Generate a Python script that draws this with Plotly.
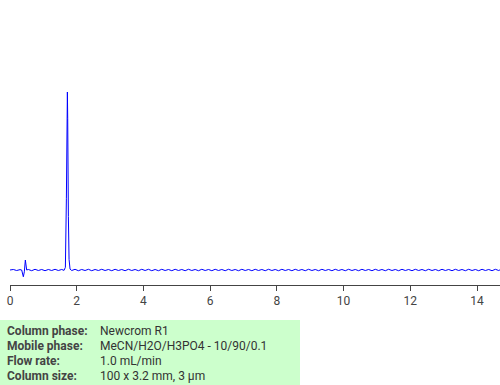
import plotly.graph_objects as go

# Chromatogram (time in min, signal in arbitrary units; baseline 0, main peak 100)
time_min = [0.0, 0.1, 0.2, 0.3, 0.35, 0.40, 0.43, 0.46, 0.50, 0.55,
            0.65, 0.75, 0.85, 0.95, 1.05, 1.15, 1.25, 1.35, 1.45, 1.55,
            1.62, 1.66, 1.69, 1.71, 1.72, 1.73, 1.75, 1.77, 1.80, 1.85,
            1.95, 2.05, 2.15, 2.25, 2.35, 2.45, 2.55, 2.65, 2.75, 2.85,
            2.95, 3.05, 3.15, 3.25, 3.35, 3.45, 3.55, 3.65, 3.75, 3.85,
            3.95, 4.05, 4.15, 4.25, 4.35, 4.45, 4.55, 4.65, 4.75, 4.85,
            4.95, 5.05, 5.15, 5.25, 5.35, 5.45, 5.55, 5.65, 5.75, 5.85,
            5.95, 6.05, 6.15, 6.25, 6.35, 6.45, 6.55, 6.65, 6.75, 6.85,
            6.95, 7.05, 7.15, 7.25, 7.35, 7.45, 7.55, 7.65, 7.75, 7.85,
            7.95, 8.05, 8.15, 8.25, 8.35, 8.45, 8.55, 8.65, 8.75, 8.85,
            8.95, 9.05, 9.15, 9.25, 9.35, 9.45, 9.55, 9.65, 9.75, 9.85,
            9.95, 10.05, 10.15, 10.25, 10.35, 10.45, 10.55, 10.65, 10.75, 10.85,
            10.95, 11.05, 11.15, 11.25, 11.35, 11.45, 11.55, 11.65, 11.75, 11.85,
            11.95, 12.05, 12.15, 12.25, 12.35, 12.45, 12.55, 12.65, 12.75, 12.85,
            12.95, 13.05, 13.15, 13.25, 13.35, 13.45, 13.55, 13.65, 13.75, 13.85,
            13.95, 14.05, 14.15, 14.25, 14.35, 14.45, 14.55, 14.65, 14.70]
signal = [0.0, 0.3, -0.3, 0.2, 0.0, -3.8, -1.0, 5.6, 0.0, 0.3,
          -0.4, 0.4, -0.3, 0.3, -0.4, 0.3, -0.3, 0.4, -0.3, 0.3,
          -0.2, 1.5, 40.0, 88.0, 100.0, 85.0, 30.0, 6.0, 0.5, -0.3,
          0.4, -0.4, 0.3, -0.3, 0.4, -0.4, 0.3, -0.3, 0.4, -0.3,
          0.3, -0.4, 0.4, -0.3, 0.3, -0.4, 0.4, -0.3, 0.3, -0.4,
          0.4, -0.3, 0.4, -0.4, 0.3, -0.4, 0.4, -0.3, 0.3, -0.4,
          0.4, -0.3, 0.3, -0.4, 0.4, -0.3, 0.3, -0.4, 0.4, -0.3,
          0.3, -0.4, 0.4, -0.3, 0.3, -0.4, 0.4, -0.3, 0.3, -0.4,
          0.4, -0.3, 0.3, -0.4, 0.4, -0.3, 0.3, -0.4, 0.4, -0.3,
          0.3, -0.4, 0.4, -0.3, 0.3, -0.4, 0.4, -0.3, 0.3, -0.4,
          0.4, -0.3, 0.3, -0.4, 0.4, -0.3, 0.3, -0.4, 0.4, -0.3,
          0.3, -0.4, 0.4, -0.3, 0.3, -0.4, 0.4, -0.3, 0.3, -0.4,
          0.4, -0.3, 0.3, -0.4, 0.4, -0.3, 0.3, -0.4, 0.4, -0.3,
          0.3, -0.4, 0.4, -0.3, 0.3, -0.4, 0.4, -0.3, 0.3, -0.4,
          0.4, -0.3, 0.3, -0.4, 0.4, -0.3, 0.3, -0.4, 0.4, -0.3,
          0.3, -0.4, 0.4, -0.3, 0.3, -0.4, 0.4, -0.3, 0.2]

tick_values = [0, 2, 4, 6, 8, 10, 12, 14]
tick_labels = ["0", "2", "4", "6", "8", "10", "12", "14"]

info_labels = ["Column phase:", "Mobile phase:", "Flow rate:", "Column size:"]
info_values = ["Newcrom R1", "MeCN/H2O/H3PO4 - 10/90/0.1", "1.0 mL/min", "100 x 3.2 mm, 3 µm"]

W, H = 500, 385
ML, MR, MT, MB = 10, 0, 10, 100
PW, PH = W - ML - MR, H - MT - MB

def px_x(px):
    return (px - ML) / PW

def px_y(py):
    return (H - MB - py) / PH

fig = go.Figure()
fig.add_trace(go.Scatter(x=time_min, y=signal, mode="lines",
                         line=dict(color="#0000ff", width=1), hoverinfo="skip"))

fig.update_layout(
    width=W, height=H,
    margin=dict(l=ML, r=MR, t=MT, b=MB),
    paper_bgcolor="white", plot_bgcolor="white",
    showlegend=False,
    font=dict(family="Roboto", size=12, color="#444"),
    xaxis=dict(range=[0, (W - ML) / 33.36], tickvals=tick_values, ticktext=tick_labels,
               showgrid=False, zeroline=False, showline=True, linecolor="#444", linewidth=1,
               ticks="outside", ticklen=5, tickcolor="#444",
               tickfont=dict(family="Roboto", size=12, color="#444")),
    yaxis=dict(range=[-15 / 1.78, (PH - 15) / 1.78], visible=False, showgrid=False, zeroline=False),
)

fig.add_shape(type="rect", xref="paper", yref="paper",
              x0=px_x(0), x1=px_x(300), y0=px_y(385), y1=px_y(320),
              fillcolor="#ccffcc", line=dict(width=0), layer="below")

row_y = [331, 346, 361, 376]
for lab, val, ry in zip(info_labels, info_values, row_y):
    fig.add_annotation(xref="paper", yref="paper", x=px_x(5), y=px_y(ry),
                       text="<b>" + lab + "</b>", showarrow=False, xanchor="left", yanchor="middle",
                       font=dict(family="Roboto", size=12, color="#444"))
    fig.add_annotation(xref="paper", yref="paper", x=px_x(98), y=px_y(ry),
                       text=val, showarrow=False, xanchor="left", yanchor="middle",
                       font=dict(family="Roboto", size=12, color="#333"))

fig.write_html("out.html")
